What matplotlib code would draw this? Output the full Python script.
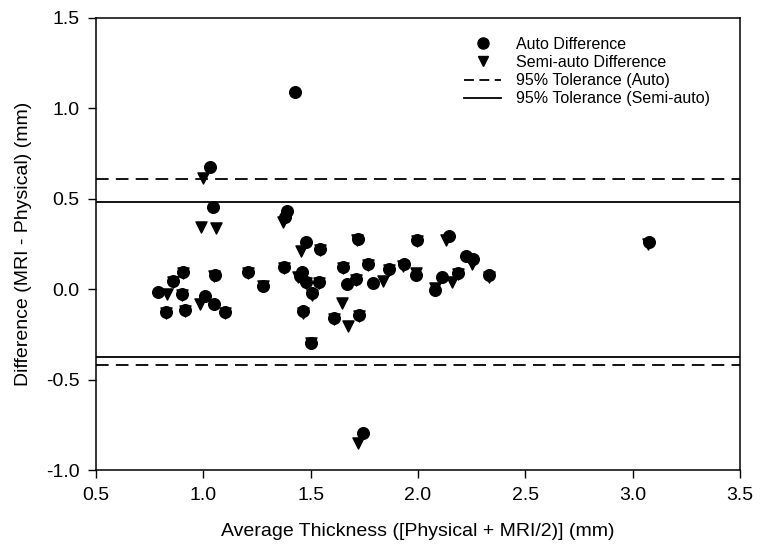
import matplotlib
matplotlib.use("Agg")
import matplotlib.pyplot as plt
from matplotlib.lines import Line2D

plt.rcParams['font.family'] = ['Liberation Sans', 'DejaVu Sans']

# auto segmentation: average thickness vs difference
auto_x = [0.79, 0.826, 0.86, 0.90, 0.907, 0.915, 1.008, 1.03, 1.043, 1.05, 1.055, 1.10,
          1.21, 1.28, 1.376, 1.38, 1.39, 1.427, 1.45, 1.46, 1.466, 1.477, 1.48, 1.50,
          1.507, 1.54, 1.545, 1.61, 1.65, 1.669, 1.71, 1.719, 1.726, 1.745, 1.765, 1.79,
          1.866, 1.934, 1.99, 1.995, 2.08, 2.11, 2.144, 2.186, 2.223, 2.254, 2.33, 3.076]
auto_y = [-0.013, -0.125, 0.044, -0.024, 0.096, -0.114, -0.039, 0.678, 0.455, -0.083, 0.077, -0.127,
          0.096, 0.02, 0.123, 0.40, 0.43, 1.09, 0.072, 0.094, -0.12, 0.26, 0.04, -0.295,
          -0.02, 0.042, 0.22, -0.159, 0.123, 0.03, 0.055, 0.278, -0.142, -0.793, 0.142, 0.033,
          0.112, 0.137, 0.076, 0.27, -0.002, 0.065, 0.293, 0.09, 0.183, 0.166, 0.076, 0.26]

# semi-automatic segmentation
semi_x = [0.83, 0.825, 0.86, 0.90, 0.905, 0.915, 0.985, 1.0, 0.99, 1.06, 1.05, 1.10,
          1.21, 1.28, 1.375, 1.37, 1.455, 1.44, 1.465, 1.48, 1.50, 1.507, 1.54, 1.545,
          1.61, 1.646, 1.675, 1.65, 1.71, 1.715, 1.725, 1.719, 1.765, 1.835, 1.865, 1.93,
          1.99, 1.995, 2.08, 2.156, 2.13, 2.185, 2.25, 2.33, 3.07]
semi_y = [-0.024, -0.13, 0.04, -0.03, 0.09, -0.12, -0.083, 0.615, 0.345, 0.34, 0.075, -0.13,
          0.09, 0.015, 0.115, 0.37, 0.21, 0.065, -0.13, 0.035, -0.30, -0.03, 0.035, 0.215,
          -0.165, -0.077, -0.203, 0.115, 0.05, 0.27, -0.15, -0.85, 0.135, 0.044, 0.105, 0.13,
          0.09, 0.265, 0.007, 0.039, 0.27, 0.085, 0.14, 0.07, 0.25]

tol_auto = [0.608, -0.42]
tol_semi = [0.481, -0.376]

fig = plt.figure(figsize=(7.64, 5.59), dpi=100)
ax = fig.add_axes([0.1257, 0.1592, 0.843, 0.8086])

ax.scatter(semi_x, semi_y, marker='v', s=64, color='black', zorder=3)
ax.scatter(auto_x, auto_y, marker='o', s=70, color='black', zorder=4)

for v in tol_auto:
    ax.axhline(v, color='black', linestyle=(0, (7, 4)), linewidth=1.3)
for v in tol_semi:
    ax.axhline(v, color='black', linestyle='-', linewidth=1.3)

ax.set_xlim(0.5, 3.5)
ax.set_ylim(-1.0, 1.5)
ax.set_xticks([0.5, 1.0, 1.5, 2.0, 2.5, 3.0, 3.5])
ax.set_yticks([-1.0, -0.5, 0.0, 0.5, 1.0, 1.5])
ax.set_xticklabels(["0.5", "1.0", "1.5", "2.0", "2.5", "3.0", "3.5"])
ax.set_yticklabels(["-1.0", "-0.5", "0.0", "0.5", "1.0", "1.5"])
ax.tick_params(labelsize=14, direction='out', length=6, width=1, pad=6)

ax.set_xlabel("Average Thickness ([Physical + MRI/2)] (mm)", fontsize=14, labelpad=14)
ax.set_ylabel("Difference (MRI - Physical) (mm)", fontsize=14, labelpad=10)

for sp in ax.spines.values():
    sp.set_linewidth(1.1)

handles = [
    Line2D([], [], marker='o', color='black', linestyle='None', markersize=8),
    Line2D([], [], marker='v', color='black', linestyle='None', markersize=7),
    Line2D([], [], color='black', linestyle=(0, (5.5, 3)), linewidth=1.3),
    Line2D([], [], color='black', linestyle='-', linewidth=1.3),
]
labels = ["Auto Difference", "Semi-auto Difference",
          "95% Tolerance (Auto)", "95% Tolerance (Semi-auto)"]
ax.legend(handles, labels, loc='upper right', bbox_to_anchor=(0.975, 0.99), frameon=False,
          fontsize=11.5, handlelength=2.3, handletextpad=0.9, labelspacing=0.2)

fig.savefig("out.png", dpi=100)
